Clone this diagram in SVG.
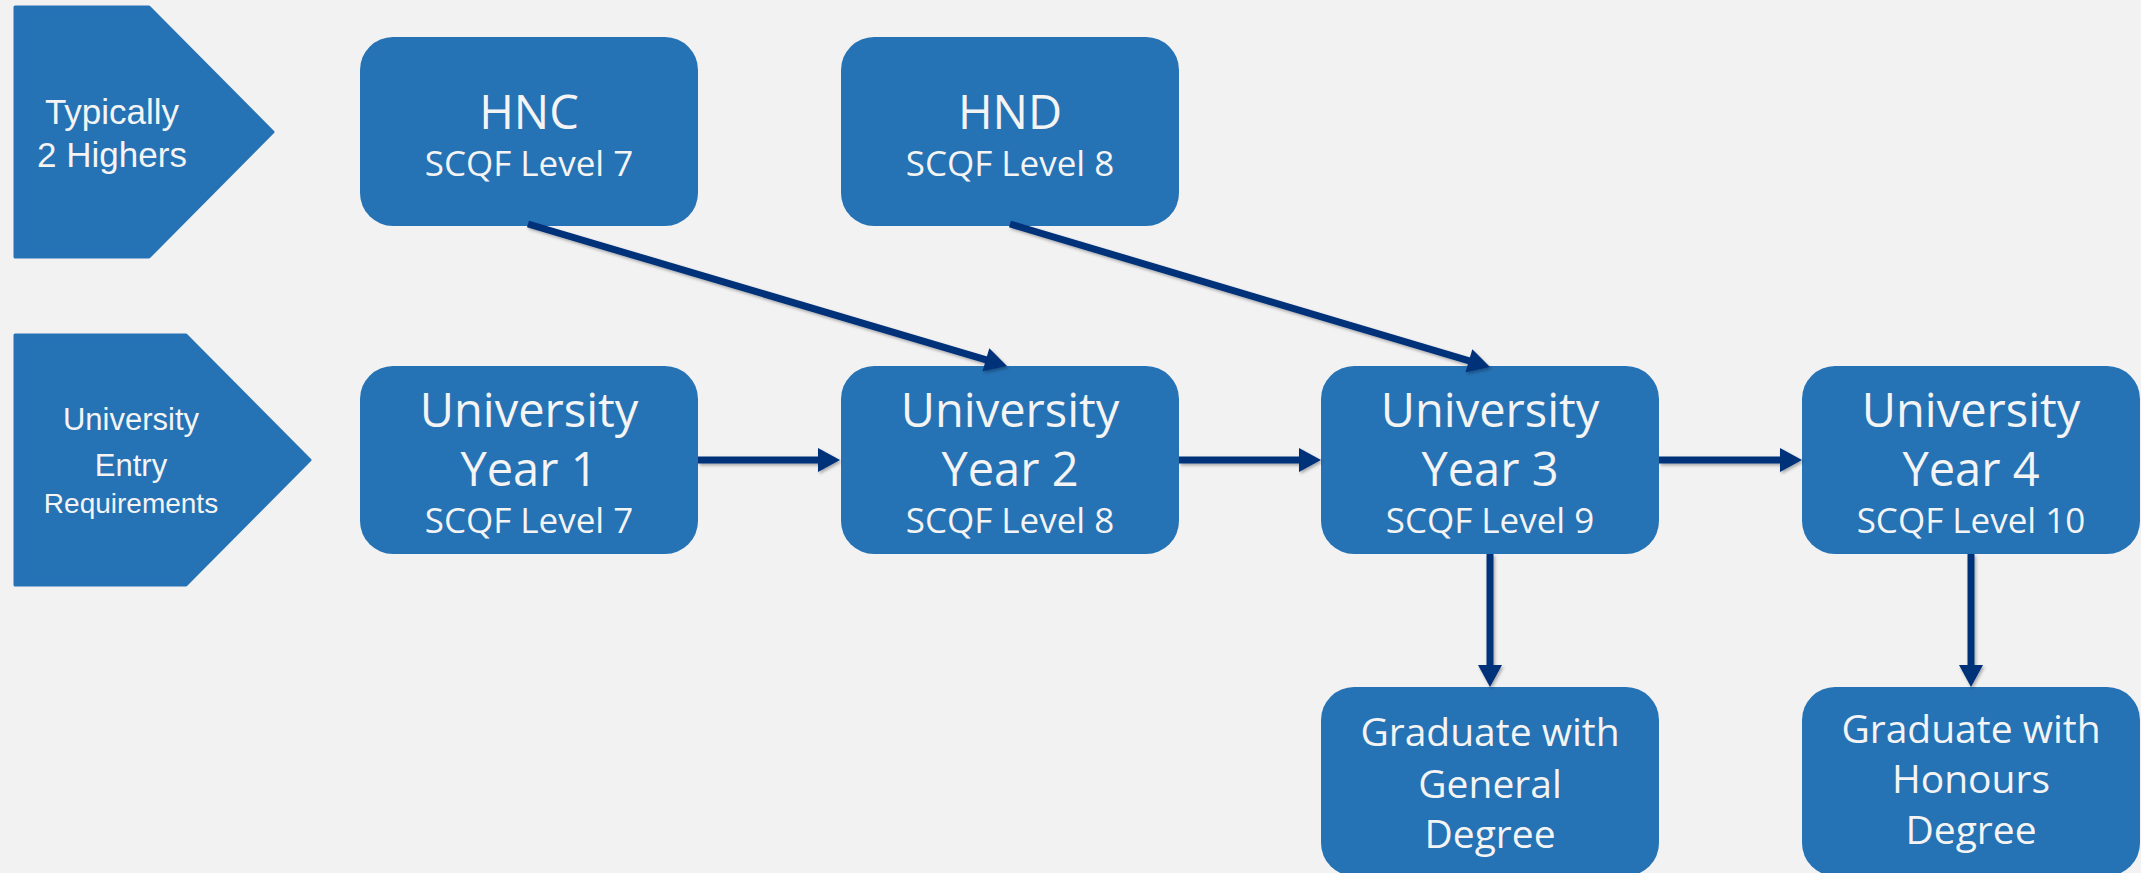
<svg xmlns="http://www.w3.org/2000/svg" width="2141" height="873" viewBox="0 0 2141 873">
<defs>
<style>
.bg{fill:#f2f2f2}
.node{fill:#2572b5}
.pent{fill:#2572b5;stroke:#2572b5;stroke-width:3;stroke-linejoin:round}
.t{font-family:"Open Sans","Noto Sans",sans-serif;fill:#f4f4f4;text-anchor:middle}
.big{font-size:47px}
.sub{font-size:35px}
.grad{font-size:39px}
.pt{font-family:"Liberation Sans",Arial,sans-serif;fill:#f4f4f4;text-anchor:middle}
.conn{stroke:#06307a;stroke-width:7;fill:none;marker-end:url(#arr)}
</style>
<marker id="arr" markerUnits="userSpaceOnUse" markerWidth="24" markerHeight="26" viewBox="0 0 23 26" refX="10" refY="13" orient="auto">
<path d="M0,1 L22,13 L0,25 z" fill="#06307a"/>
</marker>
<filter id="sh" x="-5%" y="-5%" width="110%" height="120%">
<feDropShadow dx="1.5" dy="2" stdDeviation="1.5" flood-color="#000" flood-opacity="0.3"/>
</filter>
</defs>
<rect class="bg" x="0" y="0" width="2141" height="873"/>

<g id="pent-highers">
<polygon class="pent" points="15,7 149,7 273,132 149,257 15,257"/>
<text class="pt" x="112" y="124" font-size="35">Typically</text>
<text class="pt" x="112" y="167" font-size="35">2 Highers</text>
</g>

<g id="pent-entry">
<polygon class="pent" points="15,335 186,335 310,460 186,585 15,585"/>
<text class="pt" x="131" y="430" font-size="31">University</text>
<text class="pt" x="131" y="476" font-size="31">Entry</text>
<text class="pt" x="131" y="513" font-size="28">Requirements</text>
</g>

<g id="hnc">
<rect class="node" x="360" y="37" width="338" height="189" rx="33"/>
<text class="t big" x="529" y="129">HNC</text>
<text class="t sub" x="529" y="176">SCQF Level 7</text>
</g>

<g id="hnd">
<rect class="node" x="841" y="37" width="338" height="189" rx="33"/>
<text class="t big" x="1010" y="129">HND</text>
<text class="t sub" x="1010" y="176">SCQF Level 8</text>
</g>

<g id="year1">
<rect class="node" x="360" y="366" width="338" height="188" rx="33"/>
<text class="t big" x="529" y="427">University</text>
<text class="t big" x="529" y="486">Year 1</text>
<text class="t sub" x="529" y="533">SCQF Level 7</text>
</g>

<g id="year2">
<rect class="node" x="841" y="366" width="338" height="188" rx="33"/>
<text class="t big" x="1010" y="427">University</text>
<text class="t big" x="1010" y="486">Year 2</text>
<text class="t sub" x="1010" y="533">SCQF Level 8</text>
</g>

<g id="year3">
<rect class="node" x="1321" y="366" width="338" height="188" rx="33"/>
<text class="t big" x="1490" y="427">University</text>
<text class="t big" x="1490" y="486">Year 3</text>
<text class="t sub" x="1490" y="533">SCQF Level 9</text>
</g>

<g id="year4">
<rect class="node" x="1802" y="366" width="338" height="188" rx="33"/>
<text class="t big" x="1971" y="427">University</text>
<text class="t big" x="1971" y="486">Year 4</text>
<text class="t sub" x="1971" y="533">SCQF Level 10</text>
</g>

<g id="general">
<rect class="node" x="1321" y="687" width="338" height="189" rx="33"/>
<text class="t grad" x="1490" y="746">Graduate with</text>
<text class="t grad" x="1490" y="798">General</text>
<text class="t grad" x="1490" y="848">Degree</text>
</g>

<g id="honours">
<rect class="node" x="1802" y="687" width="338" height="189" rx="33"/>
<text class="t grad" x="1971" y="743">Graduate with</text>
<text class="t grad" x="1971" y="793">Honours</text>
<text class="t grad" x="1971" y="844">Degree</text>
</g>

<g id="connectors" filter="url(#sh)">
<line class="conn" x1="528" y1="224" x2="995.5" y2="362.6"/>
<line class="conn" x1="1010" y1="224" x2="1478.5" y2="363.6"/>
<line class="conn" x1="698" y1="460" x2="828" y2="460"/>
<line class="conn" x1="1179" y1="460" x2="1309" y2="460"/>
<line class="conn" x1="1659" y1="460" x2="1790" y2="460"/>
<line class="conn" x1="1490" y1="554" x2="1490" y2="675"/>
<line class="conn" x1="1971" y1="554" x2="1971" y2="675"/>
</g>
</svg>
